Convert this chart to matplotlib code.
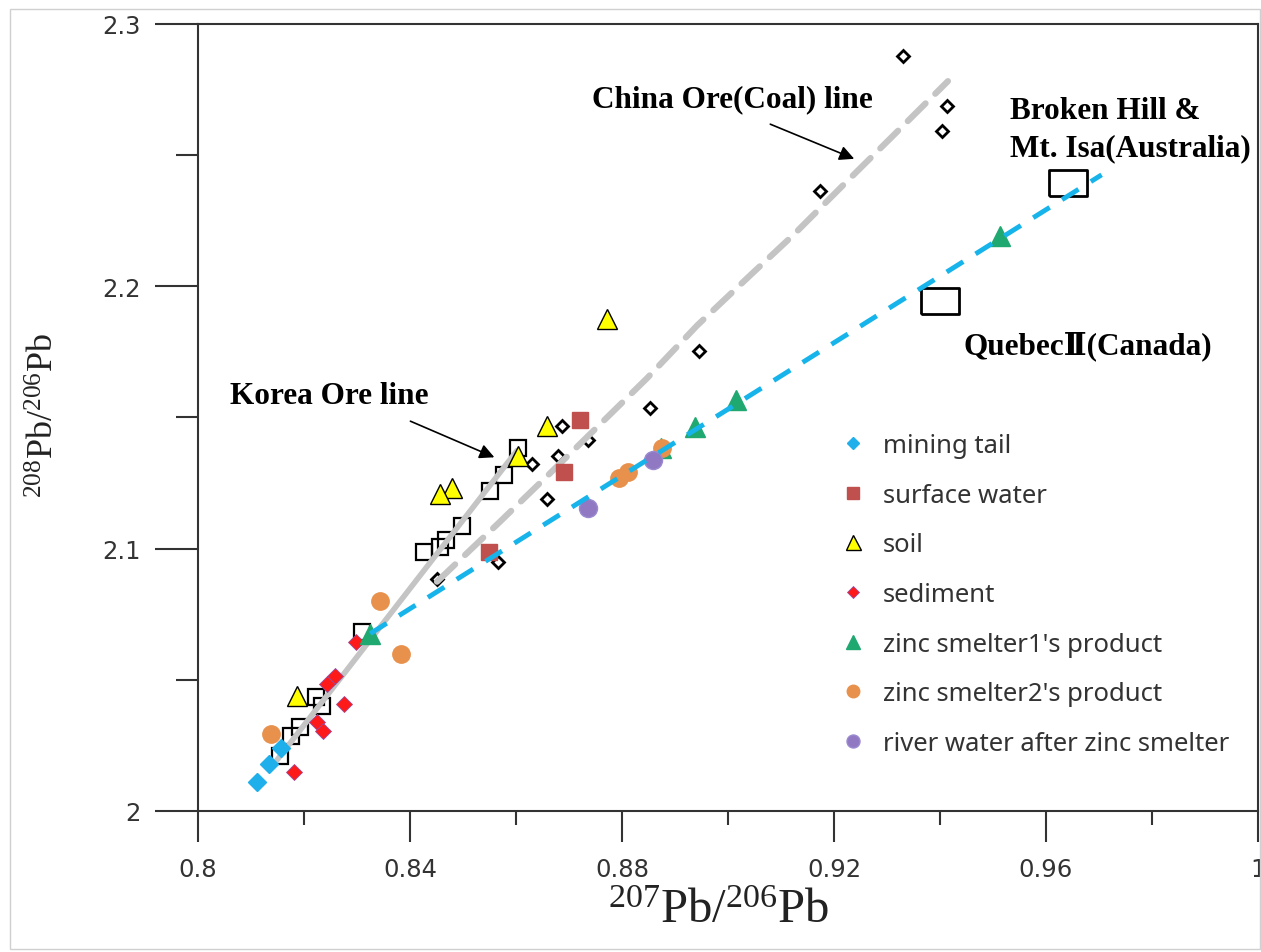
import numpy as np
import matplotlib
matplotlib.use('Agg')
import matplotlib.pyplot as plt
from matplotlib.ticker import MultipleLocator
from matplotlib.patches import Rectangle

plt.rcParams['mathtext.fontset'] = 'custom'
plt.rcParams['mathtext.rm'] = 'Liberation Serif'
plt.rcParams['mathtext.it'] = 'Liberation Serif:italic'
plt.rcParams['mathtext.bf'] = 'Liberation Serif:bold'

# --- data: 207Pb/206Pb (x) and 208Pb/206Pb (y) ---
mining_x = [0.8111, 0.8134, 0.8156]
mining_y = [2.0110, 2.0179, 2.0239]

surface_x = [0.8721, 0.8691, 0.8549]
surface_y = [2.1490, 2.1294, 2.0987]

soil_x = [0.8772, 0.8658, 0.8604, 0.8479, 0.8457, 0.8187]
soil_y = [2.1874, 2.1466, 2.1355, 2.1233, 2.1210, 2.0439]

sediment_x = [0.8298, 0.8258, 0.8244, 0.8275, 0.8224, 0.8236, 0.8181]
sediment_y = [2.0644, 2.0516, 2.0485, 2.0408, 2.0339, 2.0306, 2.0148]

smelter1_x = [0.8325, 0.8874, 0.8938, 0.9016, 0.9513]
smelter1_y = [2.0676, 2.1382, 2.1464, 2.1566, 2.2191]

smelter2_x = [0.8343, 0.8383, 0.8138, 0.8794, 0.8811, 0.8875]
smelter2_y = [2.0799, 2.0599, 2.0294, 2.1271, 2.1294, 2.1382]

river_x = [0.8736, 0.8859]
river_y = [2.1153, 2.1337]

korea_ore_x = [0.8604, 0.8577, 0.8551, 0.8498, 0.8468, 0.8457, 0.8426,
               0.8309, 0.8223, 0.8234, 0.8192, 0.8175, 0.8155]
korea_ore_y = [2.1382, 2.1282, 2.1221, 2.1088, 2.1034, 2.1008, 2.0989,
               2.0683, 2.0435, 2.0401, 2.0321, 2.0286, 2.0210]

china_ore_x = [0.9331, 0.9413, 0.9403, 0.9174, 0.8945, 0.8852, 0.8736,
               0.8687, 0.8679, 0.8630, 0.8658, 0.8566, 0.8451]
china_ore_y = [2.2877, 2.2686, 2.2593, 2.2364, 2.1755, 2.1537, 2.1413,
               2.1469, 2.1355, 2.1324, 2.1191, 2.0950, 2.0885]

australia_x, australia_y = [0.9641], [2.2395]
quebec_x, quebec_y = [0.9400], [2.1944]

# trend lines
korea_line_x = [0.8136, 0.8602]
korea_line_y = [2.0160, 2.1374]
china_line_x = [0.8451, 0.8570, 0.8658, 0.8745, 0.8847, 0.8942, 0.9042,
                0.9123, 0.9217, 0.9311, 0.9415]
china_line_y = [2.0874, 2.1103, 2.1275, 2.1447, 2.1649, 2.1851, 2.2042,
                2.2195, 2.2385, 2.2573, 2.2782]
smelter_line_x = [0.8325, 0.9705]
smelter_line_y = [2.0676, 2.2425]

labels = ['mining tail', 'surface water', 'soil', 'sediment',
          "zinc smelter1's product", "zinc smelter2's product",
          'river water after zinc smelter']

fig = plt.figure(figsize=(12.61, 9.53), dpi=100)
fig.patches.append(Rectangle((0.008, 0.003), 0.991, 0.986, transform=fig.transFigure,
                             fill=False, ec='#d0d0d0', lw=1))
ax = fig.add_axes([0.157, 0.148, 0.8406, 0.8258])

GRAY = '#c4c4c4'
# reference ore data
ax.plot(korea_ore_x, korea_ore_y, 's', ms=11, mfc='none', mec='black', mew=1.6, zorder=2)
ax.plot(china_ore_x, china_ore_y, 'D', ms=6, mfc='white', mec='black', mew=2, zorder=2)
ax.plot(korea_line_x, korea_line_y, '-', color=GRAY, lw=4, solid_capstyle='round', zorder=3)
ax.plot(china_line_x, china_line_y, '--', color=GRAY, lw=4.5, dashes=(4, 2.2),
        dash_capstyle='round', zorder=3)

rect = [(-1.45, -1), (1.45, -1), (1.45, 1), (-1.45, 1), (-1.45, -1)]
ax.plot(australia_x, australia_y, marker=rect, ms=28, mfc='none', mec='black', mew=2,
        ls='none', zorder=2)
ax.plot(quebec_x, quebec_y, marker=rect, ms=28, mfc='none', mec='black', mew=2,
        ls='none', zorder=2)

# samples
h = []
h += ax.plot(mining_x, mining_y, 'D', ms=9, color='#1fb0ec', mec='#1fb0ec', ls='none', zorder=5)
h += ax.plot(surface_x, surface_y, 's', ms=12, color='#c0504d', mec='#c0504d', ls='none', zorder=5)
h += ax.plot(soil_x, soil_y, '^', ms=15, mfc='#ffff00', mec='black', mew=1, ls='none', zorder=5)
h += ax.plot(sediment_x, sediment_y, 'D', ms=8.5, mfc='#ff1a1a', mec='#9a4a9a', mew=0.6,
             ls='none', zorder=5)
h += ax.plot(smelter1_x, smelter1_y, '^', ms=14, color='#1fa870', mec='#1fa870', ls='none', zorder=5)
h += ax.plot(smelter2_x, smelter2_y, 'o', ms=12.5, color='#e8914c', mec='#e8914c', ls='none', zorder=5)
h += ax.plot(river_x, river_y, 'o', ms=13, color='#9079c2', mec='#9a8ad0', ls='none', zorder=5)

ax.plot(smelter_line_x, smelter_line_y, color='#16b4ea', lw=3.5, dashes=(4, 3), zorder=6)

# annotations
ann = dict(family=['Liberation Serif', 'DejaVu Serif'], weight='bold', fontsize=22.5)
ax.text(0.8743, 2.2714, 'China Ore(Coal) line', va='center', ha='left', **ann)
ax.text(0.8060, 2.1584, 'Korea Ore line', va='center', ha='left', **ann)
ax.text(0.9532, 2.2670, 'Broken Hill &', va='center', ha='left', **ann)
ax.text(0.9532, 2.2528, 'Mt. Isa(Australia)', va='center', ha='left', **ann)
ax.text(0.9445, 2.1775, 'Quebec\u2161(Canada)', va='center', ha='left', **ann)
arrow = dict(arrowstyle='-|>', color='black', lw=1.2, mutation_scale=22)
ax.annotate('', xy=(0.8564, 2.1344), xytext=(0.8396, 2.1490), arrowprops=arrow)
ax.annotate('', xy=(0.9243, 2.2482), xytext=(0.9075, 2.2622), arrowprops=arrow)

# axes
ax.set_xlim(0.8, 1.0)
ax.set_ylim(2.0, 2.3)
ax.xaxis.set_minor_locator(MultipleLocator(0.02))
ax.yaxis.set_minor_locator(MultipleLocator(0.05))
ax.set_xticks([0.8, 0.84, 0.88, 0.92, 0.96, 1.0])
ax.set_xticklabels(['0.8', '0.84', '0.88', '0.92', '0.96', '1'])
ax.set_yticks([2.0, 2.1, 2.2, 2.3])
ax.set_yticklabels(['2', '2.1', '2.2', '2.3'])
for s in ax.spines.values():
    s.set_color('#333333')
    s.set_linewidth(1.5)
ax.tick_params(axis='y', which='major', length=31, width=1.5, pad=10, labelsize=17.5,
               colors='#333333', direction='out')
ax.tick_params(axis='y', which='minor', length=16, width=1.5, direction='out', colors='#333333')
ax.tick_params(axis='x', which='major', length=22, width=1.5, pad=11, labelsize=17.5,
               colors='#333333', direction='out')
ax.tick_params(axis='x', which='minor', length=10, width=1.5, direction='out', colors='#333333')
ax.tick_params(axis='y', which='both', right=False)
ax.tick_params(axis='x', which='both', top=False)

serif = ['Liberation Serif', 'DejaVu Serif']
ax.set_xlabel(r'$^{207}$Pb/$^{206}$Pb', family=serif, fontsize=35, color='#222222')
ax.set_ylabel(r'$^{208}$Pb/$^{206}$Pb', family=serif, fontsize=26, color='#222222')
ax.xaxis.set_label_coords(0.4915, -0.098)
ax.yaxis.set_label_coords(-0.128, 0.504)

leg = ax.legend(h, labels, loc='upper left', bbox_to_anchor=(0.584, 0.5095), frameon=False,
                prop={'family': ['Noto Sans', 'DejaVu Sans'], 'size': 18.5},
                labelcolor='#333333', handlelength=1.0, handletextpad=0.67,
                labelspacing=0.96, markerscale=0.72)

fig.savefig('out.png', dpi=100)
